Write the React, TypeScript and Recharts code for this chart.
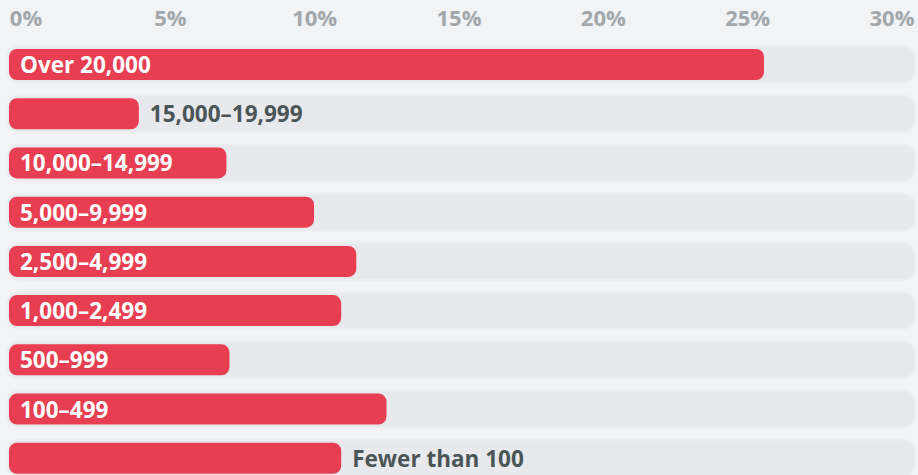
import { BarChart, Bar, XAxis, YAxis, LabelList } from "recharts";

const categories = [
  "Over 20,000",
  "15,000–19,999",
  "10,000–14,999",
  "5,000–9,999",
  "2,500–4,999",
  "1,000–2,499",
  "500–999",
  "100–499",
  "Fewer than 100",
];

const shares = [25.0, 4.3, 7.2, 10.1, 11.5, 11.0, 7.3, 12.5, 11.0];

// labels drawn to the right of the bar instead of inside it
const outsideLabels = ["15,000–19,999", "Fewer than 100"];

const ticks = [0, 5, 10, 15, 20, 25, 30];

const data = categories.map((name, i) => ({ name, value: shares[i] }));

const FONT = "'Open Sans', 'Noto Sans', sans-serif";
const RED = "#e73e52";
const TRACK = "#e8e9ec";
const BG = "#f2f3f5";
const PLOT_LEFT = 9;
const PLOT_WIDTH = 906;

const renderTrack = (p: any) => (
  <rect
    key={`track-${p.index}`}
    x={p.x - 2}
    y={p.y - 3}
    width={p.width + 2}
    height={p.height + 6}
    rx={12}
    ry={12}
    fill={TRACK}
    stroke="#eceef0"
    strokeWidth={2}
  />
);

// tick labels sit a little inside the bar scale (0% and 30% stay within the tracks)
const renderTick = (p: any) => {
  const x = PLOT_LEFT + 17 + (p.x - PLOT_LEFT) * ((PLOT_WIDTH - 40) / PLOT_WIDTH);
  return (
    <text
      x={x}
      y={26}
      textAnchor="middle"
      fill="#a3a7a9"
      fontFamily={FONT}
      fontWeight={700}
      fontSize={22}
    >
      {`${p.payload.value}%`}
    </text>
  );
};

const renderLabel = (p: any) => {
  const { x, y, width, height, value } = p;
  const outside = outsideLabels.includes(value);
  return (
    <text
      x={outside ? x + width + 11 : x + 11}
      y={y + height / 2}
      dominantBaseline="central"
      fill={outside ? "#4a5558" : "#ffffff"}
      fontFamily={FONT}
      fontWeight={700}
      fontSize={22.5}
    >
      {value}
    </text>
  );
};

export default function App() {
  return (
    <div
      style={{
        position: "absolute",
        left: 0,
        top: 0,
        width: 918,
        height: 475,
        overflow: "hidden",
        background: BG,
      }}
    >
      <BarChart
        width={918}
        height={490}
        data={data}
        layout="vertical"
        margin={{ top: 10, right: 3, bottom: 7, left: PLOT_LEFT }}
        barCategoryGap={0}
      >
        <XAxis
          type="number"
          orientation="top"
          domain={[0, 30]}
          ticks={ticks}
          height={30}
          axisLine={false}
          tickLine={false}
          tick={renderTick}
          interval={0}
        />
        <YAxis type="category" dataKey="name" hide />
        <Bar
          dataKey="value"
          fill={RED}
          barSize={31}
          radius={8}
          background={renderTrack}
          isAnimationActive={false}
        >
          <LabelList dataKey="name" content={renderLabel} />
        </Bar>
      </BarChart>
    </div>
  );
}
